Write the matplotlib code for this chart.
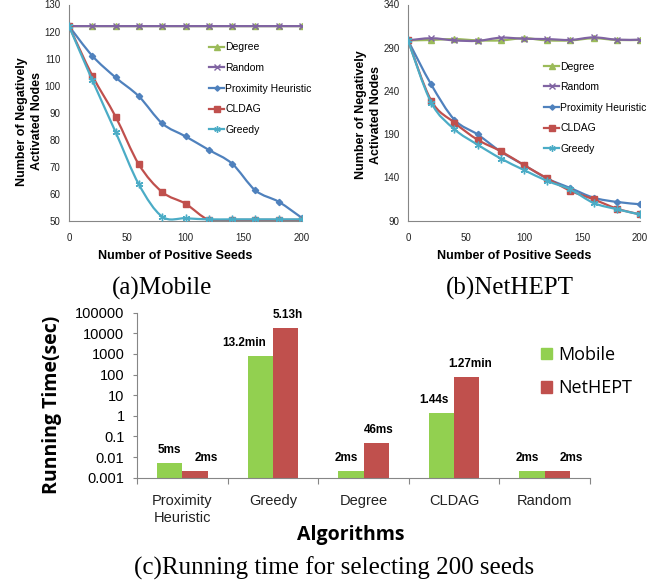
import numpy as np
import matplotlib
matplotlib.use("Agg")
import matplotlib.pyplot as plt
from matplotlib.path import Path
from matplotlib.patches import PathPatch, Patch
from matplotlib.lines import Line2D
from matplotlib.ticker import FixedLocator, FixedFormatter

# ---------------- data ----------------
seeds = [0, 20, 40, 60, 80, 100, 120, 140, 160, 180, 200]
series_names = ["Degree", "Random", "Proximity Heuristic", "CLDAG", "Greedy"]

mobile_degree = [122, 122, 122, 122, 122, 122, 122, 122, 122, 122, 122]
mobile_random = [122, 122, 122, 122, 122, 122, 122, 122, 122, 122, 122]
mobile_prox = [122, 111, 103, 96, 86, 81.2, 76.2, 71.1, 61.2, 57, 51]
mobile_cldag = [122, 103.7, 88.5, 70.8, 60.6, 56.3, 50.3, 50.3, 50.3, 50.3, 50.3]
mobile_greedy = [122, 102, 82.8, 63.4, 51.5, 50.9, 50.5, 50.5, 50.5, 50.5, 50.5]

net_degree = [298.5, 299, 300, 298.5, 298.5, 301, 298.5, 298.5, 301, 299, 299]
net_random = [298.5, 301, 298.5, 298, 301.6, 300.4, 300, 299, 302, 299.3, 299.3]
net_prox = [298.5, 247.5, 206.8, 189.7, 169.9, 154.3, 138.7, 127.7, 116.6, 111.7, 109]
net_cldag = [298.5, 228.9, 203.4, 183.6, 170.3, 154.3, 139, 124.6, 114.7, 104, 97.2]
net_greedy = [298.5, 226.6, 195.8, 177.9, 161.9, 148.6, 136, 126.1, 110.5, 103.3, 97.2]

mobile_yticks = [50, 60, 70, 80, 90, 100, 110, 120, 130]
net_yticks = [90, 140, 190, 240, 290, 340]
seed_xticks = [0, 50, 100, 150, 200]

algorithms = ["Proximity\nHeuristic", "Greedy", "Degree", "CLDAG", "Random"]
mobile_time = [0.005, 792, 0.002, 1.44, 0.002]
nethept_time = [0.002, 18468, 0.046, 76.2, 0.002]
mobile_labels = ["5ms", "13.2min", "2ms", "1.44s", "2ms"]
nethept_labels = ["2ms", "5.13h", "46ms", "1.27min", "2ms"]
time_ticks = [0.001, 0.01, 0.1, 1, 10, 100, 1000, 10000, 100000]
time_tick_labels = ["0.001", "0.01", "0.1", "1", "10", "100", "1000", "10000", "100000"]

# ---------------- style ----------------
W, H = 668, 587
colors = ["#9BBB59", "#8064A2", "#4F81BD", "#C0504D", "#4BACC6"]
markers = ["^", "x", "D", "s", (6, 2, 0)]
msizes = [4.5, 4.5, 3.2, 4.5, 5.5]
spine_c = "#868686"
SANS = "Liberation Sans"
SERIF = "Liberation Serif"

fig = plt.figure(figsize=(W / 100, H / 100), dpi=100)


def fx(px):
    return px / W


def fy(py):
    return 1 - py / H


def smooth_path(xs, ys):
    pts = np.column_stack([xs, ys]).astype(float)
    n = len(pts)
    verts = [pts[0]]
    codes = [Path.MOVETO]
    for i in range(n - 1):
        p0 = pts[i - 1] if i > 0 else pts[i]
        p1 = pts[i]
        p2 = pts[i + 1]
        p3 = pts[i + 2] if i + 2 < n else pts[i + 1]
        c1 = p1 + (p2 - p0) / 6.0
        c2 = p2 - (p3 - p1) / 6.0
        verts += [c1, c2, p2]
        codes += [Path.CURVE4] * 3
    return Path(verts, codes)


def line_panel(ax, data, ylim, yticks, leg_anchor):
    for i, ys in enumerate(data):
        patch = PathPatch(smooth_path(seeds, ys), facecolor="none",
                          edgecolor=colors[i], lw=1.6, zorder=2 + i)
        ax.add_patch(patch)
        ax.plot(seeds, ys, linestyle="none", marker=markers[i], ms=msizes[i],
                color=colors[i], mec=colors[i], mew=1.0, zorder=3 + i)
    ax.set_xlim(0, 200)
    ax.set_ylim(*ylim)
    ax.set_xticks(seed_xticks)
    ax.set_yticks(yticks)
    for s in ["top", "right"]:
        ax.spines[s].set_visible(False)
    for s in ["left", "bottom"]:
        ax.spines[s].set_color(spine_c)
        ax.spines[s].set_linewidth(0.8)
    ax.tick_params(axis="both", length=0, labelsize=7, colors="#222222")
    ax.tick_params(axis="x", pad=9)
    ax.tick_params(axis="y", pad=6)
    for lbl in ax.get_xticklabels() + ax.get_yticklabels():
        lbl.set_fontfamily(SANS)
    handles = [Line2D([0], [0], color=colors[i], lw=1.6, marker=markers[i],
                      ms=msizes[i] * 0.85, mec=colors[i]) for i in range(5)]
    ax.legend(handles, series_names, loc="upper left",
              bbox_to_anchor=leg_anchor, bbox_transform=fig.transFigure,
              frameon=False, handlelength=1.45, handletextpad=0.1,
              labelspacing=1.02, borderpad=0, borderaxespad=0,
              prop={"family": SANS, "size": 7.5})


# ---- (a) Mobile ----
ax1 = fig.add_axes([fx(69), fy(220.7), fx(302 - 69), (220.7 - 4.5) / H])
line_panel(ax1, [mobile_degree, mobile_random, mobile_prox, mobile_cldag, mobile_greedy],
           (50, 130), mobile_yticks, (fx(209), fy(42.5)))

# ---- (b) NetHEPT ----
ax2 = fig.add_axes([fx(408), fy(220.7), fx(640 - 408), (220.7 - 4.5) / H])
line_panel(ax2, [net_degree, net_random, net_prox, net_cldag, net_greedy],
           (90, 340), net_yticks, (fx(544), fy(61.5)))

for cx, cy in [(29.5, 121.5), (368.5, 115)]:
    fig.text(fx(cx), fy(cy), "Number of Negatively\nActivated Nodes", rotation=90,
             ha="center", va="center", fontsize=9, fontweight="bold",
             family=SANS, linespacing=1.25)
for cx in [175, 514]:
    fig.text(fx(cx), fy(256), "Number of Positive Seeds", ha="center", va="center",
             fontsize=9, fontweight="bold", family=SANS)

fig.text(fx(162), fy(288), "(a)Mobile", ha="center", va="center",
         fontsize=18, family=SERIF)
fig.text(fx(510), fy(288), "(b)NetHEPT", ha="center", va="center",
         fontsize=18, family=SERIF)

# ---- (c) running time ----
ax3 = fig.add_axes([fx(137), fy(477.7), fx(590 - 137), (477.7 - 312.7) / H])
xpos = np.arange(len(algorithms))
bw = 0.28
ax3.bar(xpos - bw / 2, mobile_time, width=bw, color="#92D050", label="Mobile", zorder=2)
ax3.bar(xpos + bw / 2, nethept_time, width=bw, color="#C0504D", label="NetHEPT", zorder=2)
ax3.set_yscale("log")
ax3.set_ylim(0.001, 100000)
ax3.set_xlim(-0.5, len(algorithms) - 0.5)
ax3.yaxis.set_major_locator(FixedLocator(time_ticks))
ax3.yaxis.set_major_formatter(FixedFormatter(time_tick_labels))
ax3.yaxis.set_minor_locator(FixedLocator([]))
ax3.set_xticks(xpos)
ax3.set_xticklabels(algorithms, linespacing=1.25)
ax3.set_xticks(np.arange(-0.5, len(algorithms), 1.0), minor=True)
ax3.tick_params(axis="x", which="major", length=0, pad=12, labelsize=10.5, colors="#222222")
ax3.tick_params(axis="x", which="minor", length=4, width=0.8, color=spine_c, direction="out")
ax3.tick_params(axis="y", which="major", length=3, width=0.8, color=spine_c,
                direction="out", pad=6, labelsize=10.5)
for lbl in ax3.get_xticklabels() + ax3.get_yticklabels():
    lbl.set_fontfamily(SANS)
for s in ["top", "right"]:
    ax3.spines[s].set_visible(False)
for s in ["left", "bottom"]:
    ax3.spines[s].set_color(spine_c)
    ax3.spines[s].set_linewidth(0.8)

dx_mobile = [0, -16, -5, -7, -5]
dx_net = [11, 2, 3, 3, 14]
for i in range(len(algorithms)):
    ax3.annotate(mobile_labels[i], (xpos[i] - bw / 2, mobile_time[i]),
                 xytext=(dx_mobile[i] * 0.72, 9.4), textcoords="offset points",
                 ha="center", va="center", fontsize=8.5, fontweight="bold", family=SANS)
    ax3.annotate(nethept_labels[i], (xpos[i] + bw / 2, nethept_time[i]),
                 xytext=(dx_net[i] * 0.72, 9.4), textcoords="offset points",
                 ha="center", va="center", fontsize=8.5, fontweight="bold", family=SANS)

ax3.legend(handles=[Patch(color="#92D050"), Patch(color="#C0504D")],
           labels=["Mobile", "NetHEPT"], loc="upper left",
           bbox_to_anchor=(fx(541), fy(346)), bbox_transform=fig.transFigure,
           frameon=False, handlelength=0.6, handleheight=0.6, handletextpad=0.35,
           labelspacing=0.85, borderpad=0, borderaxespad=0,
           prop={"family": "Open Sans", "size": 13})

fig.text(fx(52), fy(405), "Running Time(sec)", rotation=90, ha="center", va="center",
         fontsize=14, fontweight="bold", family="Open Sans")
fig.text(fx(350.5), fy(535), "Algorithms", ha="center", va="center",
         fontsize=14, fontweight="bold", family="Open Sans")
fig.text(fx(334), fy(568), "(c)Running time for selecting 200 seeds", ha="center",
         va="center", fontsize=18, family=SERIF)

fig.savefig("out.png", dpi=100)
